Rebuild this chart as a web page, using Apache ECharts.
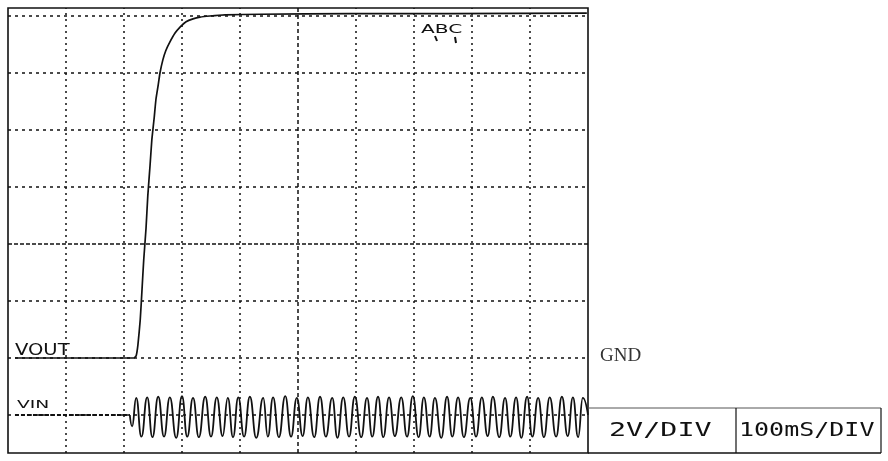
<!DOCTYPE html>
<html>
<head>
<meta charset="utf-8">
<script src="https://cdn.jsdelivr.net/npm/echarts@6/dist/echarts.min.js"></script>
<style>html,body{margin:0;padding:0;background:#fff;}#c{width:888px;height:461px;}</style>
</head>
<body>
<div id="c"></div>
<script>
// Graticule divisions (time in divisions of 100 ms, voltage in divisions of 2 V)
const xGridDivs = [1, 2, 3, 4, 5, 6, 7, 8, 9];
const yGridDivs = [0, 1, 2, 3, 4, 5, 6, 7];

// VOUT trace (x in divisions, y in divisions above VIN reference)
const voutX = [0.12, 2.17, 2.21, 2.24, 2.28, 2.31, 2.34, 2.38, 2.41, 2.45, 2.48, 2.52, 2.55, 2.59, 2.62, 2.67, 2.72, 2.79, 2.88, 2.97, 3.07, 3.19, 3.31, 3.48, 3.74, 4.34, 5.90, 7.62, 9.98];
const voutY = [1.00, 1.00, 1.04, 1.23, 1.67, 2.19, 2.72, 3.28, 3.84, 4.39, 4.83, 5.21, 5.53, 5.79, 6.00, 6.23, 6.39, 6.54, 6.70, 6.81, 6.90, 6.95, 6.98, 7.00, 7.02, 7.03, 7.04, 7.04, 7.05];

// VIN trace: flat lead-in, then AC waveform peaks / troughs
const vinLeadX = [0.12, 2.10];
const vinLeadY = [0.00, 0.00];
const vinStartX = [2.10, 2.14];
const vinStartY = [0.00, -0.20];
const vinPeakX = [2.21, 2.40, 2.59, 2.79, 3.00, 3.19, 3.40, 3.60, 3.79, 3.97, 4.17, 4.40, 4.57, 4.78, 4.98, 5.17, 5.38, 5.59, 5.78, 5.98, 6.19, 6.38, 6.57, 6.78, 6.98, 7.17, 7.36, 7.57, 7.76, 7.97, 8.17, 8.36, 8.57, 8.76, 8.95, 9.14, 9.34, 9.55, 9.74, 9.91];
const vinPeakY = [0.30, 0.31, 0.32, 0.31, 0.33, 0.30, 0.32, 0.31, 0.30, 0.31, 0.32, 0.30, 0.31, 0.33, 0.30, 0.31, 0.32, 0.30, 0.31, 0.32, 0.30, 0.32, 0.31, 0.31, 0.33, 0.31, 0.30, 0.32, 0.31, 0.30, 0.31, 0.32, 0.30, 0.31, 0.32, 0.30, 0.31, 0.32, 0.31, 0.30];
const vinTroughX = [2.30, 2.49, 2.69, 2.90, 3.09, 3.29, 3.50, 3.70, 3.88, 4.07, 4.28, 4.48, 4.67, 4.88, 5.08, 5.28, 5.48, 5.68, 5.88, 6.09, 6.28, 6.47, 6.67, 6.88, 7.08, 7.27, 7.47, 7.66, 7.86, 8.07, 8.27, 8.47, 8.66, 8.85, 9.04, 9.24, 9.45, 9.65, 9.83];
const vinTroughY = [-0.38, -0.39, -0.38, -0.40, -0.38, -0.39, -0.38, -0.37, -0.39, -0.38, -0.40, -0.38, -0.39, -0.38, -0.37, -0.39, -0.38, -0.40, -0.38, -0.39, -0.38, -0.39, -0.37, -0.38, -0.39, -0.38, -0.40, -0.38, -0.39, -0.38, -0.37, -0.39, -0.38, -0.40, -0.38, -0.39, -0.38, -0.37, -0.39];
const vinEndX = [10.0];
const vinEndY = [0.0];

// Labels
const voltsPerDiv = '2V/DIV';
const timePerDiv = '100mS/DIV';
const gndLabel = 'GND';
const voutLabel = 'VOUT';
const vinLabel = 'VIN';
const cursorLabel = 'ABC';

const voutData = voutX.map((x, i) => [x, voutY[i]]);
const vinLeadData = vinLeadX.map((x, i) => [x, vinLeadY[i]]);
const vinData = vinStartX.map((x, i) => [x, vinStartY[i]]);
vinPeakX.forEach((x, i) => {
  vinData.push([x, vinPeakY[i]]);
  if (i < vinTroughX.length) vinData.push([vinTroughX[i], vinTroughY[i]]);
});
vinEndX.forEach((x, i) => vinData.push([x, vinEndY[i]]));

const ink = '#111111';
const gridLines = [];
xGridDivs.forEach(v => gridLines.push({ xAxis: v, lineStyle: { type: v === 5 ? [4, 3] : [2, 4], width: 1.5, color: ink } }));
yGridDivs.forEach(v => gridLines.push({ yAxis: v, lineStyle: { type: v === 3 ? [4, 2] : [3, 4], width: 1.5, color: ink } }));

const chart = echarts.init(document.getElementById('c'), null, { renderer: 'canvas' });
chart.setOption({
  backgroundColor: '#ffffff',
  animation: false,
  grid: { left: 8, top: 8, width: 580, height: 445, show: true, borderColor: ink, borderWidth: 1.6, backgroundColor: 'transparent' },
  xAxis: { type: 'value', min: 0, max: 10, show: false, splitLine: { show: false } },
  yAxis: { type: 'value', min: -0.667, max: 7.14, show: false, splitLine: { show: false } },
  series: [
    {
      type: 'line', name: 'graticule', data: [], silent: true,
      markLine: { silent: true, symbol: 'none', label: { show: false }, data: gridLines, animation: false }
    },
    {
      type: 'line', name: 'VOUT', data: voutData, showSymbol: false, smooth: 0.15,
      lineStyle: { color: ink, width: 1.7 }, z: 5
    },
    {
      type: 'line', name: 'VIN lead', data: vinLeadData, showSymbol: false,
      lineStyle: { color: ink, width: 2, type: [4, 2] }, z: 5
    },
    {
      type: 'line', name: 'VIN', data: vinData, showSymbol: false, smooth: 0.5, smoothMonotone: 'x',
      lineStyle: { color: ink, width: 1.8 }, z: 5
    }
  ],
  graphic: [
    { type: 'line', shape: { x1: 588, y1: 453, x2: 881, y2: 453 }, style: { stroke: ink, lineWidth: 1.4 } },
    { type: 'line', shape: { x1: 588, y1: 408, x2: 881, y2: 408 }, style: { stroke: '#555', lineWidth: 1 } },
    { type: 'line', shape: { x1: 736, y1: 408, x2: 736, y2: 453 }, style: { stroke: ink, lineWidth: 1.2 } },
    { type: 'line', shape: { x1: 881, y1: 408, x2: 881, y2: 453 }, style: { stroke: ink, lineWidth: 1.2 } },
    { type: 'text', x: 609, y: 431, scaleX: 1.42, style: { text: voltsPerDiv, font: '20px "DejaVu Sans Mono"', fill: ink, align: 'left', verticalAlign: 'middle', textAlign: 'left', textVerticalAlign: 'middle' } },
    { type: 'text', x: 739, y: 431, scaleX: 1.25, style: { text: timePerDiv, font: '20px "DejaVu Sans Mono"', fill: ink, align: 'left', verticalAlign: 'middle', textAlign: 'left', textVerticalAlign: 'middle' } },
    { type: 'text', x: 600, y: 356, style: { text: gndLabel, font: '19px "Liberation Serif"', fill: '#333', align: 'left', verticalAlign: 'middle', textAlign: 'left', textVerticalAlign: 'middle' } },
    { type: 'text', x: 15, y: 351, scaleX: 1.22, style: { text: voutLabel, font: '16px "DejaVu Sans"', fill: ink, align: 'left', verticalAlign: 'middle', textAlign: 'left', textVerticalAlign: 'middle' } },
    { type: 'text', x: 17, y: 405, scaleX: 1.7, style: { text: vinLabel, font: '11px "DejaVu Sans"', fill: ink, align: 'left', verticalAlign: 'middle', textAlign: 'left', textVerticalAlign: 'middle' } },
    { type: 'text', x: 421, y: 30, scaleX: 1.55, style: { text: cursorLabel, font: '13px "DejaVu Sans"', fill: ink, align: 'left', verticalAlign: 'middle', textAlign: 'left', textVerticalAlign: 'middle' } },
    { type: 'line', shape: { x1: 435, y1: 36, x2: 437, y2: 41 }, style: { stroke: ink, lineWidth: 2 } },
    { type: 'line', shape: { x1: 455, y1: 37, x2: 456, y2: 43 }, style: { stroke: ink, lineWidth: 2 } }
  ]
});
</script>
</body>
</html>
